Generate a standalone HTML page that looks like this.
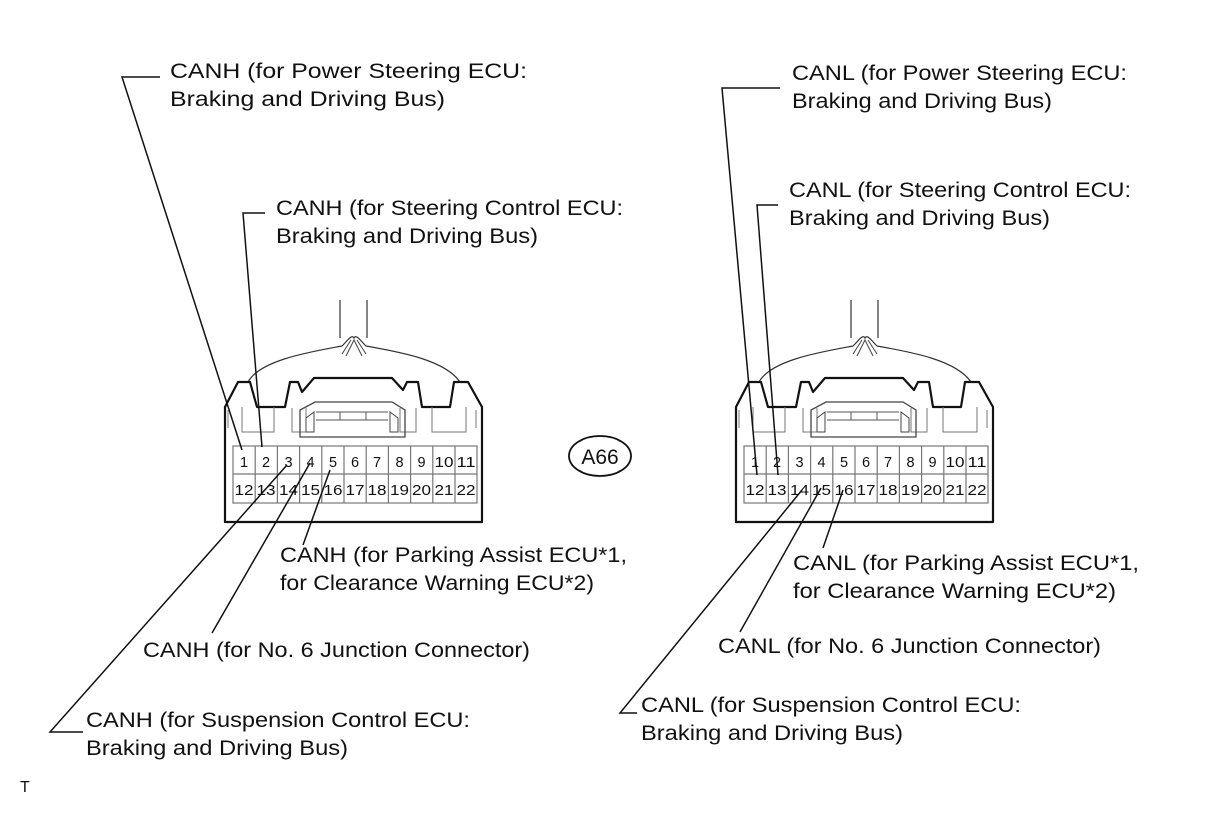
<!DOCTYPE html>
<html><head><meta charset="utf-8"><style>
html,body{margin:0;padding:0;background:#fff;}
svg{display:block;}
text{font-family:"Liberation Sans",Arial,sans-serif;fill:#111;}
</style></head><body>
<svg width="1210" height="814" viewBox="0 0 1210 814" xmlns="http://www.w3.org/2000/svg">
<defs>
<g id="conn">
  <path d="M120 300 V338 M147 300 V338" stroke="#333" stroke-width="1.2" fill="none"/>
  <path d="M28 382 C40 360 90 352 122 346 C128 340 132 334 134 338 C136 334 140 340 146 346 C180 352 225 360 240 382" stroke="#333" stroke-width="1.2" fill="none"/>
  <path d="M126 356 L134 340 L142 356 M122 354 L131 340 M146 354 L137 340" stroke="#444" stroke-width="1" fill="none"/>
  <path d="M5 407 L18 382 L30 382 L37 407 L65 407 L70 382 L78 382 L82 392 L94 378 L172 378 L183 390 L187 382 L198 382 L202 407 L230 407 L234 382 L248 382 L262 407 V522 H5 Z" fill="#fff" stroke="#111" stroke-width="2.2" stroke-linejoin="round"/>
  <path d="M8 410 V428 M22 407 V432 H54 V407 M212 407 V432 H246 V407 M256 410 V428" stroke="#777" stroke-width="1" fill="none"/>
  <path d="M72 408 V432 H86 V408 M180 408 V432 H196 V408" stroke="#777" stroke-width="1" fill="none"/>
  <path d="M80 437 V410 L95 402 H172 L185 410 V437 Z" fill="none" stroke="#444" stroke-width="1.3"/>
  <path d="M86 432 V418 L94 412 V432 Z M178 432 V418 L170 412 V432 Z" fill="none" stroke="#444" stroke-width="1"/>
  <path d="M96 412 H168 M96 420 H168 M120 412 V420 M146 412 V420" stroke="#555" stroke-width="1" fill="none"/>
  <rect x="13" y="446" width="244" height="57" fill="#fff" stroke="#777" stroke-width="1.2"/>
  <path d="M13 474 H257" stroke="#777" stroke-width="1.2"/>
  <path d="M35.2 446V503 M57.4 446V503 M79.6 446V503 M101.8 446V503 M124 446V503 M146.2 446V503 M168.4 446V503 M190.6 446V503 M212.8 446V503 M235 446V503" stroke="#777" stroke-width="1.2"/>
  <g font-size="14.5" text-anchor="middle">
    <text x="24" y="467">1</text><text x="46" y="467">2</text><text x="68.5" y="467">3</text><text x="90.5" y="467">4</text><text x="113" y="467">5</text><text x="135" y="467">6</text><text x="157" y="467">7</text><text x="179.5" y="467">8</text><text x="201.5" y="467">9</text><text x="224" y="467" textLength="19" lengthAdjust="spacingAndGlyphs">10</text><text x="246" y="467" textLength="19" lengthAdjust="spacingAndGlyphs">11</text>
    <text x="24" y="495" textLength="19" lengthAdjust="spacingAndGlyphs">12</text><text x="46" y="495" textLength="19" lengthAdjust="spacingAndGlyphs">13</text><text x="68.5" y="495" textLength="19" lengthAdjust="spacingAndGlyphs">14</text><text x="90.5" y="495" textLength="19" lengthAdjust="spacingAndGlyphs">15</text><text x="113" y="495" textLength="19" lengthAdjust="spacingAndGlyphs">16</text><text x="135" y="495" textLength="19" lengthAdjust="spacingAndGlyphs">17</text><text x="157" y="495" textLength="19" lengthAdjust="spacingAndGlyphs">18</text><text x="179.5" y="495" textLength="19" lengthAdjust="spacingAndGlyphs">19</text><text x="201.5" y="495" textLength="19" lengthAdjust="spacingAndGlyphs">20</text><text x="224" y="495" textLength="19" lengthAdjust="spacingAndGlyphs">21</text><text x="246" y="495" textLength="19" lengthAdjust="spacingAndGlyphs">22</text>
  </g>
</g>
</defs>
<use href="#conn" x="220" y="0"/>
<use href="#conn" x="731" y="0"/>

<g stroke="#111" stroke-width="1.5" fill="none">
  <path d="M160 77 H122 L242 450"/>
  <path d="M265 213 H243 L262 447"/>
  <path d="M287 465 L50 732 H83"/>
  <path d="M310 463 L212 633"/>
  <path d="M330 470 L303 545"/>
  <path d="M780 88 H722 L757 475"/>
  <path d="M778 205 H757 L778 475"/>
  <path d="M802 490 L620 713 H637"/>
  <path d="M821 488 L740 632"/>
  <path d="M843 490 L823 548"/>
  <ellipse cx="600" cy="456" rx="31" ry="20" stroke-width="1.8"/>
</g>
<text x="600" y="464" font-size="21" text-anchor="middle">A66</text>

<g font-size="21">
  <text x="170" y="78" textLength="357" lengthAdjust="spacingAndGlyphs">CANH (for Power Steering ECU:</text>
  <text x="170" y="106" textLength="275" lengthAdjust="spacingAndGlyphs">Braking and Driving Bus)</text>
  <text x="276" y="215" textLength="347" lengthAdjust="spacingAndGlyphs">CANH (for Steering Control ECU:</text>
  <text x="276" y="243" textLength="262" lengthAdjust="spacingAndGlyphs">Braking and Driving Bus)</text>
  <text x="280" y="562" textLength="347" lengthAdjust="spacingAndGlyphs">CANH (for Parking Assist ECU*1,</text>
  <text x="280" y="590" textLength="314" lengthAdjust="spacingAndGlyphs">for Clearance Warning ECU*2)</text>
  <text x="143" y="657" textLength="387" lengthAdjust="spacingAndGlyphs">CANH (for No. 6 Junction Connector)</text>
  <text x="86" y="727" textLength="384" lengthAdjust="spacingAndGlyphs">CANH (for Suspension Control ECU:</text>
  <text x="86" y="755" textLength="262" lengthAdjust="spacingAndGlyphs">Braking and Driving Bus)</text>

  <text x="792" y="80" textLength="335" lengthAdjust="spacingAndGlyphs">CANL (for Power Steering ECU:</text>
  <text x="792" y="108" textLength="260" lengthAdjust="spacingAndGlyphs">Braking and Driving Bus)</text>
  <text x="789" y="197" textLength="342" lengthAdjust="spacingAndGlyphs">CANL (for Steering Control ECU:</text>
  <text x="789" y="225" textLength="261" lengthAdjust="spacingAndGlyphs">Braking and Driving Bus)</text>
  <text x="793" y="570" textLength="346" lengthAdjust="spacingAndGlyphs">CANL (for Parking Assist ECU*1,</text>
  <text x="793" y="598" textLength="323" lengthAdjust="spacingAndGlyphs">for Clearance Warning ECU*2)</text>
  <text x="718" y="653" textLength="383" lengthAdjust="spacingAndGlyphs">CANL (for No. 6 Junction Connector)</text>
  <text x="641" y="712" textLength="380" lengthAdjust="spacingAndGlyphs">CANL (for Suspension Control ECU:</text>
  <text x="641" y="740" textLength="262" lengthAdjust="spacingAndGlyphs">Braking and Driving Bus)</text>
</g>
<text x="20" y="792" font-size="16">T</text>
</svg>
</body></html>
